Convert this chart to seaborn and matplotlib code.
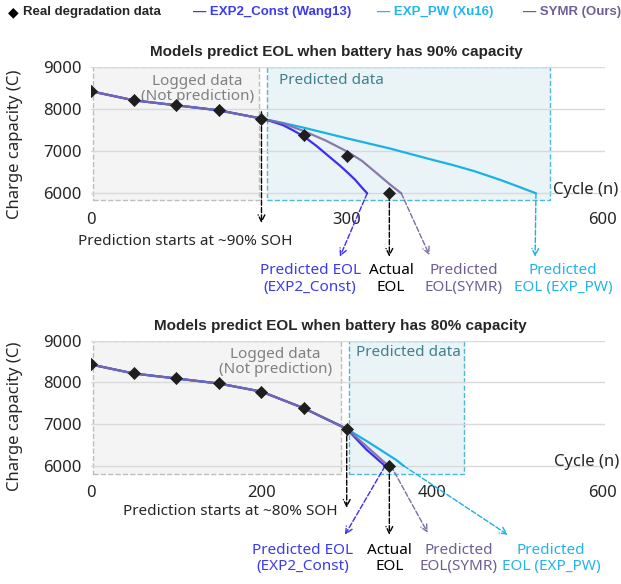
import matplotlib
matplotlib.use("Agg")
import matplotlib.pyplot as plt
from matplotlib.patches import Rectangle
import seaborn as sns
import pandas as pd

# ---- data ----
real_cycles = [0, 50, 100, 150, 200, 250, 300, 350]
real_cap = [8430, 8215, 8095, 7975, 7780, 7380, 6890, 6000]

# panel 1: prediction starts at cycle 200 (~90% SOH)
p1_const_cyc = [0, 50, 100, 150, 200, 212, 225, 237, 250, 265, 282, 292, 302, 310, 317, 324]
p1_const_cap = [8430, 8215, 8095, 7975, 7780, 7710, 7625, 7500, 7350, 7120, 6830, 6660, 6475,
                6320, 6155, 6000]
p1_symr_cyc = [0, 50, 100, 150, 200, 225, 250, 275, 300, 318, 333, 349, 357, 364]
p1_symr_cap = [8430, 8215, 8095, 7975, 7780, 7665, 7480, 7260, 7000, 6770, 6515, 6240, 6110, 6000]
p1_pw_cyc = [0, 50, 100, 150, 200, 225, 250, 300, 350, 400, 425, 450, 480, 500, 522]
p1_pw_cap = [8430, 8215, 8095, 7975, 7780, 7675, 7560, 7310, 7070, 6800, 6670, 6525, 6320, 6170,
             6000]

# panel 2: prediction starts at cycle 300 (~80% SOH)
p2_const_cyc = [0, 50, 100, 150, 200, 250, 300, 323, 345]
p2_const_cap = [8430, 8215, 8095, 7975, 7780, 7380, 6890, 6395, 6000]
p2_symr_cyc = [0, 50, 100, 150, 200, 250, 300, 323, 349]
p2_symr_cap = [8430, 8215, 8095, 7975, 7780, 7380, 6890, 6475, 6000]
p2_pw_cyc = [0, 50, 100, 150, 200, 250, 300, 327, 358, 367]
p2_pw_cap = [8430, 8215, 8095, 7975, 7780, 7380, 6890, 6550, 6144, 6000]

yticks = [6000, 7000, 8000, 9000]
p1_xticks = [0, 300, 600]
p2_xticks = [0, 200, 400, 600]

BLUE = '#3d2ef2'
CYAN = '#1bb1e7'
PURPLE = '#7d6ca5'
BLUE_T = '#3a3af2'
PURPLE_T = '#6f5f95'
CYAN_T = '#22b4ec'
BOLD_FONT = ['Liberation Sans', 'DejaVu Sans']

sns.set_style("white")
plt.rcParams['font.family'] = ['Noto Sans', 'DejaVu Sans']

fig = plt.figure(figsize=(6.21, 5.84), dpi=100)


def draw_panel(ax, const, symr, pw, xticks, ylow, logged_box, pred_box, logged_xy, pred_xy):
    ax.set_xlim(0, 603)
    ax.set_ylim(ylow, 9000)
    for y in yticks:
        ax.axhline(y, color='#d9d9d9', lw=1, zorder=1)
    ax.add_patch(Rectangle((logged_box[0], logged_box[2]), logged_box[1] - logged_box[0],
                           9000 - logged_box[2], facecolor='#f4f4f4', edgecolor='#bdbdbd',
                           ls='--', lw=1, zorder=0.5))
    ax.add_patch(Rectangle((pred_box[0], pred_box[2]), pred_box[1] - pred_box[0],
                           9000 - pred_box[2], facecolor='#eaf4f7', edgecolor='#4fb8d8',
                           ls='--', lw=1, zorder=0.5))
    ax.text(logged_xy[0], logged_xy[1], 'Logged data\n(Not prediction)', ha='center', va='center',
            color='#808080', fontsize=11, linespacing=1.05, zorder=2)
    ax.text(pred_xy[0], pred_xy[1], 'Predicted data', ha=pred_xy[2], va='center',
            color='#3f7f8f', fontsize=11, zorder=2)

    sns.lineplot(x=pw[0], y=pw[1], ax=ax, color=CYAN, lw=1.6, sort=False, estimator=None, zorder=3)
    sns.lineplot(x=const[0], y=const[1], ax=ax, color=BLUE, lw=1.6, sort=False, estimator=None, zorder=3)
    sns.lineplot(x=symr[0], y=symr[1], ax=ax, color=PURPLE, lw=1.6, sort=False, estimator=None,
                 zorder=4, alpha=0.9)
    sns.scatterplot(x=real_cycles, y=real_cap, ax=ax, marker='D', s=38, color='#1e1e1e',
                    edgecolor='#1e1e1e', zorder=5)

    for s in ax.spines.values():
        s.set_visible(False)
    ax.spines['bottom'].set_position(('data', 6000))
    ax.set_yticks(yticks)
    ax.set_xticks(xticks)
    ax.tick_params(axis='y', length=0, pad=6.5, labelsize=12)
    ax.tick_params(axis='x', direction='out', length=4.5, width=0.8, color='#d0d0d0',
                   pad=9, labelsize=12)
    ax.set_xlabel('')
    ax.set_ylabel('')


def arrow(ax, start, tip, color):
    ax.annotate('', xy=tip, xytext=start, annotation_clip=False,
                arrowprops=dict(arrowstyle='->', color=color, lw=1, ls='--',
                                shrinkA=0, shrinkB=0, mutation_scale=12))


def label(ax, x, y, text, color):
    ax.text(x, y, text, ha='center', va='center', color=color, fontsize=11,
            linespacing=1.1, clip_on=False)


# ---- top panel ----
ax1 = fig.add_axes([91 / 621, 1 - 201.7 / 584, 514 / 621, (201.7 - 67.3) / 584])
draw_panel(ax1, (p1_const_cyc, p1_const_cap), (p1_symr_cyc, p1_symr_cap), (p1_pw_cyc, p1_pw_cap),
           p1_xticks, 5800, (2, 197, 5840), (206, 538, 5840), (125, 8483), (220, 8681, 'left'))
ax1.text(580, 6080, 'Cycle (n)', ha='center', va='center', fontsize=12)
arrow(ax1, (200, 7940), (200, 5290), 'black')
ax1.text(110, 4848, 'Prediction starts at ~90% SOH', ha='center', va='center', fontsize=11,
         clip_on=False)
arrow(ax1, (324, 6000), (292, 4490), BLUE)
arrow(ax1, (350, 5950), (350, 4490), 'black')
arrow(ax1, (364, 6000), (397, 4530), PURPLE)
arrow(ax1, (522, 6000), (521, 4490), CYAN)
label(ax1, 257, 3960, 'Predicted EOL\n(EXP2_Const)', BLUE_T)
label(ax1, 352, 3960, 'Actual\nEOL', 'black')
label(ax1, 437, 3960, 'Predicted\nEOL(SYMR)', PURPLE_T)
label(ax1, 554, 3960, 'Predicted\nEOL (EXP_PW)', CYAN_T)

# ---- bottom panel ----
ax2 = fig.add_axes([91 / 621, 1 - 476.4 / 584, 514 / 621, (476.4 - 340.7) / 584])
draw_panel(ax2, (p2_const_cyc, p2_const_cap), (p2_symr_cyc, p2_symr_cap), (p2_pw_cyc, p2_pw_cap),
           p2_xticks, 5750, (2, 293, 5810), (303, 438, 5810), (216, 8495), (372, 8713, 'center'))
ax2.text(582, 6100, 'Cycle (n)', ha='center', va='center', fontsize=12)
arrow(ax2, (300, 6895), (300, 4998), 'black')
ax2.text(164, 4909, 'Prediction starts at ~80% SOH', ha='center', va='center', fontsize=11,
         clip_on=False)
arrow(ax2, (345, 6000), (298, 4352), BLUE)
arrow(ax2, (350, 5980), (350, 4352), 'black')
arrow(ax2, (352, 6000), (395, 4400), PURPLE)
arrow(ax2, (367, 6000), (489, 4352), CYAN)
label(ax2, 248, 3778, 'Predicted EOL\n(EXP2_Const)', BLUE_T)
label(ax2, 350, 3778, 'Actual\nEOL', 'black')
label(ax2, 431, 3778, 'Predicted\nEOL(SYMR)', PURPLE_T)
label(ax2, 540, 3778, 'Predicted\nEOL (EXP_PW)', CYAN_T)

# ---- titles, y labels ----
fig.text(336 / 621, 1 - 52 / 584, 'Models predict EOL when battery has 90% capacity',
         ha='center', va='center', fontsize=11, fontweight='bold', family=BOLD_FONT)
fig.text(340 / 621, 1 - 326 / 584, 'Models predict EOL when battery has 80% capacity',
         ha='center', va='center', fontsize=11, fontweight='bold', family=BOLD_FONT)
fig.text(15 / 621, 1 - 144 / 584, 'Charge capacity (C)', rotation=90, ha='center', va='center',
         fontsize=12)
fig.text(15 / 621, 1 - 416 / 584, 'Charge capacity (C)', rotation=90, ha='center', va='center',
         fontsize=12)

# ---- legend row ----
fig.text(13.5 / 621, 1 - 12 / 584, '\u25c6', ha='center', va='center', fontsize=10,
         color='black', family=['DejaVu Sans'])
fig.text(23 / 621, 1 - 12 / 584, 'Real degradation data', ha='left', va='center',
         fontsize=9.5, fontweight='bold', family=BOLD_FONT)
fig.text(193 / 621, 1 - 12 / 584, '\u2014 EXP2_Const (Wang13)', ha='left', va='center',
         fontsize=9.5, fontweight='bold', color=BLUE_T, family=BOLD_FONT)
fig.text(377 / 621, 1 - 12 / 584, '\u2014 EXP_PW (Xu16)', ha='left', va='center',
         fontsize=9.5, fontweight='bold', color=CYAN_T, family=BOLD_FONT)
fig.text(523 / 621, 1 - 12 / 584, '\u2014 SYMR (Ours)', ha='left', va='center',
         fontsize=9.5, fontweight='bold', color=PURPLE_T, family=BOLD_FONT)

fig.savefig('out.png', dpi=100)
